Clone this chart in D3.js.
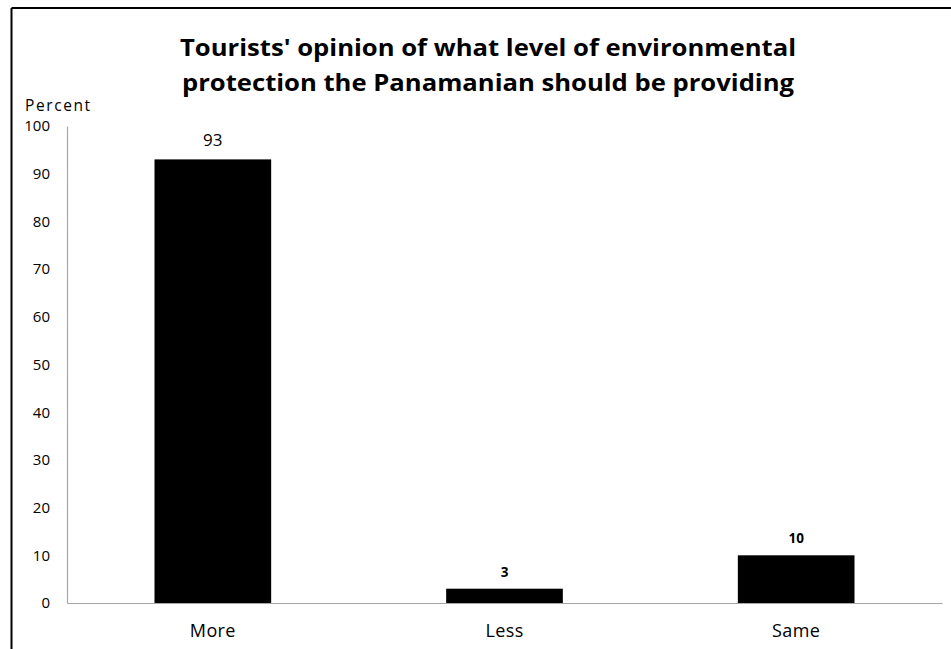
<!DOCTYPE html>
<html>
<head>
<meta charset="utf-8">
<script src="https://cdn.jsdelivr.net/npm/d3@7"></script>
<style>
  html, body { margin: 0; padding: 0; background: #fff; }
  svg { display: block; }
</style>
</head>
<body>
<svg id="chart" width="951" height="649"></svg>
<script>
const categories = ["More", "Less", "Same"];
const values = [93, 3, 10];
const yTicks = [0, 10, 20, 30, 40, 50, 60, 70, 80, 90, 100];
const titleLines = ["Tourists' opinion of what level of environmental",
                    "protection the Panamanian should be providing"];
const yLabel = "Percent";

const svg = d3.select("#chart");
const font = "'Open Sans', 'Liberation Sans', sans-serif";

// outer frame (top and left edges visible)
svg.append("line").attr("x1", 11.5).attr("x2", 951).attr("y1", 8).attr("y2", 8)
  .attr("stroke", "#000").attr("stroke-width", 2);
svg.append("line").attr("x1", 11.5).attr("x2", 11.5).attr("y1", 8).attr("y2", 649)
  .attr("stroke", "#000").attr("stroke-width", 2);

const x = d3.scaleBand().domain(categories).range([67, 942])
  .paddingInner(0.6).paddingOuter(0.3);
const y = d3.scaleLinear().domain([0, 100]).range([603, 126]);

// title
const titleW = [616, 612];
titleLines.forEach((t, i) => {
  svg.append("text")
    .attr("x", 488).attr("y", 56 + i * 35)
    .attr("text-anchor", "middle")
    .attr("font-family", font).attr("font-weight", "bold")
    .attr("font-size", 23)
    .attr("textLength", titleW[i]).attr("lengthAdjust", "spacingAndGlyphs")
    .attr("fill", "#000")
    .text(t);
});

// y label
svg.append("text").attr("x", 25).attr("y", 111)
  .attr("font-family", font).attr("font-size", 15.5).attr("letter-spacing", 1.6)
  .text(yLabel);

// y axis
const yAxis = svg.append("g").attr("transform", "translate(67,0)")
  .call(d3.axisLeft(y).tickValues(yTicks).tickSize(0).tickPadding(17));
yAxis.select(".domain").attr("stroke", "#a6a6a6").attr("stroke-width", 1.2);
yAxis.selectAll("text").attr("font-family", font).attr("font-size", 15).attr("fill", "#000");

// bars
svg.selectAll("rect.bar").data(values).enter().append("rect")
  .attr("class", "bar")
  .attr("x", (d, i) => x(categories[i]))
  .attr("y", d => y(d))
  .attr("width", x.bandwidth())
  .attr("height", d => y(0) - y(d))
  .attr("fill", "#000");

// x axis
const xAxis = svg.append("g").attr("transform", "translate(0,603)")
  .call(d3.axisBottom(x).tickSize(0).tickPadding(21));
xAxis.select(".domain").attr("stroke", "#a6a6a6").attr("stroke-width", 1.2);
xAxis.selectAll("text").attr("font-family", font).attr("font-size", 18)
  .attr("letter-spacing", 0.4).attr("fill", "#000");

// value labels
const labelSizes = [17, 13.5, 13.5];
const labelWeights = ["normal", "bold", "bold"];
const labelOffsets = [13, 12, 12];
svg.selectAll("text.val").data(values).enter().append("text")
  .attr("class", "val")
  .attr("x", (d, i) => x(categories[i]) + x.bandwidth() / 2)
  .attr("y", (d, i) => y(d) - labelOffsets[i])
  .attr("text-anchor", "middle")
  .attr("font-family", font)
  .attr("font-size", (d, i) => labelSizes[i])
  .attr("font-weight", (d, i) => labelWeights[i])
  .text(d => d);
</script>
</body>
</html>
